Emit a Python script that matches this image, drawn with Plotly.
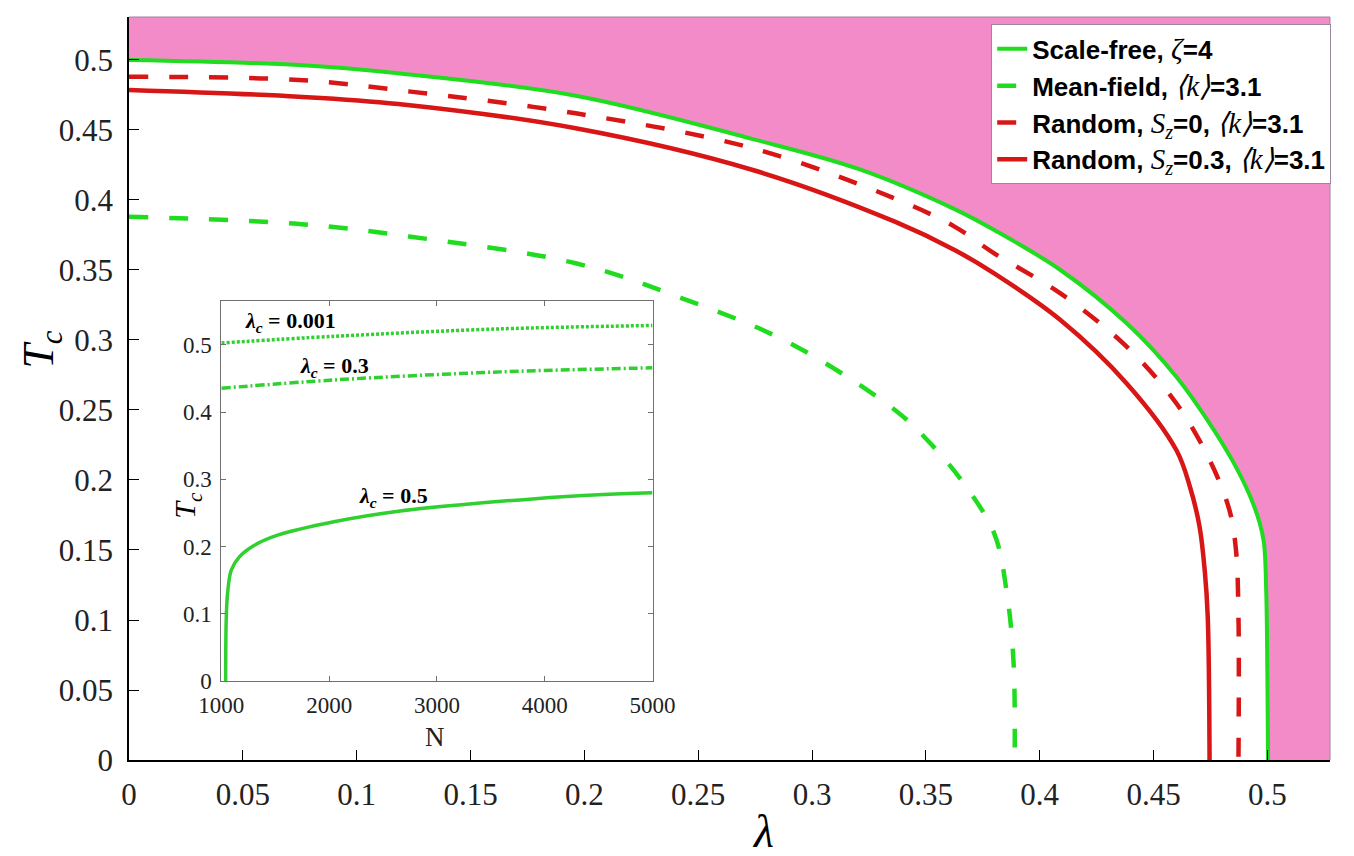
import plotly.graph_objects as go

# main panel: critical temperature vs lambda
lam_sf = [0, 0.0746, 0.1182, 0.1962, 0.274, 0.3207, 0.3626, 0.380, 0.4091, 0.4382, 0.46, 0.4746,
          0.4846, 0.492, 0.4965, 0.4985, 0.4995, 0.5, 0.5003]
tc_sf = [0.5, 0.4964, 0.4905, 0.4745, 0.4435, 0.422, 0.3935, 0.3786, 0.35, 0.3119, 0.2738, 0.2405,
         0.214, 0.19, 0.17, 0.155, 0.12, 0.06, 0]

lam_mf = [0, 0.0746, 0.1237, 0.1962, 0.2429, 0.29, 0.3364, 0.3509, 0.3655, 0.380, 0.3855, 0.3885, 0.389]
tc_mf = [0.388, 0.3829, 0.3738, 0.3548, 0.3298, 0.298, 0.250, 0.228, 0.200, 0.1619, 0.12, 0.07, 0]

lam_r0 = [0, 0.0746, 0.1237, 0.1962, 0.274, 0.3364, 0.3626, 0.380, 0.4091, 0.4382, 0.46, 0.4746, 0.4833,
          0.4862, 0.4873, 0.4873]
tc_r0 = [0.488, 0.4857, 0.4774, 0.4619, 0.4369, 0.401, 0.381, 0.3619, 0.3333, 0.2952, 0.2548, 0.2143, 0.1786,
         0.15, 0.1024, 0]

lam_r3 = [0, 0.0746, 0.1182, 0.1962, 0.274, 0.3364, 0.3626, 0.380, 0.4091, 0.4382, 0.46, 0.466, 0.4702,
          0.4725, 0.4738, 0.4746]
tc_r3 = [0.4786, 0.4738, 0.4686, 0.4512, 0.4214, 0.3845, 0.3643, 0.3476, 0.3143, 0.269, 0.2214, 0.195, 0.1667,
         0.135, 0.1024, 0]

# inset: Tc vs N
n_001 = [1000, 2050, 3590, 5000]
tc_001 = [0.503, 0.513, 0.524, 0.529]
n_03 = [1000, 2050, 3590, 5000]
tc_03 = [0.4356, 0.448, 0.460, 0.466]
n_05 = [1040, 1045, 1058, 1092, 1169, 1307, 1522, 2044, 2659, 3274, 3888, 4502, 5000]
tc_05 = [0, 0.091, 0.131, 0.165, 0.185, 0.202, 0.217, 0.237, 0.253, 0.263, 0.271, 0.277, 0.280]

X_MAX = 0.5275
Y_MAX = 0.5307

GREEN = '#1fdc1f'
RED = '#d81616'
PINK = '#f38bc9'
SERIF = 'Liberation Serif'
SMOOTH = 1.0


def m(s):
    # math bits of the legend in serif italic, a bit larger
    return f"<span style='font-family:Liberation Serif;font-size:29px'><i>{s}</i></span>"


fig = go.Figure()

# pink region outside the scale-free boundary: fill between the plot's top/right edge and the curve
fig.add_trace(go.Scatter(
    x=[0, X_MAX, X_MAX], y=[Y_MAX, Y_MAX, 0], mode='lines',
    line=dict(width=0), showlegend=False, hoverinfo='skip'
))
fig.add_trace(go.Scatter(
    x=lam_sf, y=tc_sf, mode='lines', fill='tonexty', fillcolor=PINK,
    line=dict(width=0, shape='spline', smoothing=SMOOTH),
    showlegend=False, hoverinfo='skip'
))

fig.add_trace(go.Scatter(
    x=lam_sf, y=tc_sf, mode='lines',
    name='<b>Scale-free, </b>' + m('ζ') + '<b>=4</b>',
    line=dict(color=GREEN, width=4, shape='spline', smoothing=SMOOTH)
))
fig.add_trace(go.Scatter(
    x=lam_mf, y=tc_mf, mode='lines',
    name='<b>Mean-field, </b>' + m('⟨k⟩') + '<b>=3.1</b>',
    line=dict(color=GREEN, width=4.5, dash='19px,21px', shape='spline', smoothing=SMOOTH)
))
fig.add_trace(go.Scatter(
    x=lam_r0, y=tc_r0, mode='lines',
    name='<b>Random, </b>' + m('S<sub>z</sub>') + '<b>=0, </b>' + m('⟨k⟩') + '<b>=3.1</b>',
    line=dict(color=RED, width=4.5, dash='19px,21px', shape='spline', smoothing=SMOOTH)
))
fig.add_trace(go.Scatter(
    x=lam_r3, y=tc_r3, mode='lines',
    name='<b>Random, </b>' + m('S<sub>z</sub>') + '<b>=0.3, </b>' + m('⟨k⟩') + '<b>=3.1</b>',
    line=dict(color=RED, width=4.5, shape='spline', smoothing=SMOOTH)
))

# inset curves
fig.add_trace(go.Scatter(x=n_001, y=tc_001, mode='lines', xaxis='x2', yaxis='y2', showlegend=False,
                         line=dict(color='#2fd02f', width=3.5, dash='3px,2px', shape='spline')))
fig.add_trace(go.Scatter(x=n_03, y=tc_03, mode='lines', xaxis='x2', yaxis='y2', showlegend=False,
                         line=dict(color='#2fd02f', width=3.5, dash='9px,3px,2px,3px', shape='spline')))
fig.add_trace(go.Scatter(x=n_05, y=tc_05, mode='lines', xaxis='x2', yaxis='y2', showlegend=False,
                         line=dict(color='#2fd02f', width=3.5, shape='spline', smoothing=SMOOTH)))

tick_font = dict(family=SERIF, size=31, color='#222')
inset_font = dict(family=SERIF, size=23, color='#222')

fig.update_layout(
    width=1354, height=856,
    margin=dict(l=121, r=17, t=9, b=104),
    paper_bgcolor='white', plot_bgcolor='white',
    font=dict(family=SERIF, color='black'),
    xaxis=dict(
        domain=[0, 1], range=[0, X_MAX], dtick=0.05, tick0=0,
        ticks='inside', ticklen=10, tickcolor='black', tickwidth=1,
        showline=True, linecolor='black', linewidth=1.5,
        showgrid=False, zeroline=False, tickfont=tick_font, ticklabelstandoff=6
    ),
    yaxis=dict(
        domain=[0, 1], range=[0, Y_MAX], dtick=0.05, tick0=0,
        ticks='inside', ticklen=10, tickcolor='black', tickwidth=1,
        showline=True, linecolor='black', linewidth=1.5,
        showgrid=False, zeroline=False, tickfont=tick_font, ticklabelstandoff=8
    ),
    xaxis2=dict(
        domain=[0.0769, 0.4359], anchor='y2', range=[1000, 5000], dtick=1000,
        ticks='inside', ticklen=5, tickcolor='#707070', mirror='ticks',
        showline=True, linecolor='#707070', linewidth=1,
        showgrid=False, zeroline=False, tickfont=inset_font, ticklabelstandoff=3
    ),
    yaxis2=dict(
        domain=[0.1063, 0.6178], anchor='x2', range=[0, 0.5655], dtick=0.1,
        ticks='inside', ticklen=5, tickcolor='#707070', mirror='ticks',
        showline=True, linecolor='#707070', linewidth=1,
        showgrid=False, zeroline=False, tickfont=inset_font, ticklabelstandoff=4
    ),
    legend=dict(
        x=1.001, y=0.99, xanchor='right', yanchor='top',
        bgcolor='white', bordercolor='#9a88a0', borderwidth=1,
        font=dict(family='Liberation Sans', size=26, color='black'),
        traceorder='normal'
    ),
    shapes=[
        dict(type='line', xref='paper', yref='paper', x0=0, x1=1, y0=1, y1=1,
             line=dict(color='#9a88a0', width=1), layer='above'),
        dict(type='line', xref='paper', yref='paper', x0=1, x1=1, y0=0, y1=1,
             line=dict(color='#9a88a0', width=1), layer='above'),
    ],
    annotations=[
        dict(text='<i>λ</i>', xref='paper', yref='paper', x=0.5277, y=-0.0956,
             xanchor='center', yanchor='middle',
             showarrow=False, font=dict(family=SERIF, size=46, color='black')),
        dict(text='<i>T<sub>c</sub></i>', xref='paper', yref='paper', x=-0.0736, y=0.5518,
             xanchor='center', yanchor='middle',
             textangle=-90, showarrow=False, font=dict(family=SERIF, size=44, color='black')),
        dict(text='N', xref='paper', yref='paper', x=0.2548, y=0.031,
             xanchor='center', yanchor='middle',
             showarrow=False, font=dict(family=SERIF, size=27, color='#222')),
        dict(text='<i>T<sub>c</sub></i>', xref='paper', yref='paper', x=0.0488, y=0.343,
             xanchor='center', yanchor='middle',
             textangle=-90, showarrow=False, font=dict(family=SERIF, size=30, color='black')),
        dict(text='<b><i>λ</i><sub><i>c</i></sub> = 0.001</b>', xref='x2', yref='y2', x=1645, y=0.534,
             xanchor='center', yanchor='middle',
             showarrow=False, font=dict(family=SERIF, size=22, color='black')),
        dict(text='<b><i>λ</i><sub><i>c</i></sub> = 0.3</b>', xref='x2', yref='y2', x=2051, y=0.467,
             xanchor='center', yanchor='middle',
             showarrow=False, font=dict(family=SERIF, size=22, color='black')),
        dict(text='<b><i>λ</i><sub><i>c</i></sub> = 0.5</b>', xref='x2', yref='y2', x=2594, y=0.274,
             xanchor='center', yanchor='middle',
             showarrow=False, font=dict(family=SERIF, size=22, color='black')),
    ]
)

fig.write_html("out.html")
